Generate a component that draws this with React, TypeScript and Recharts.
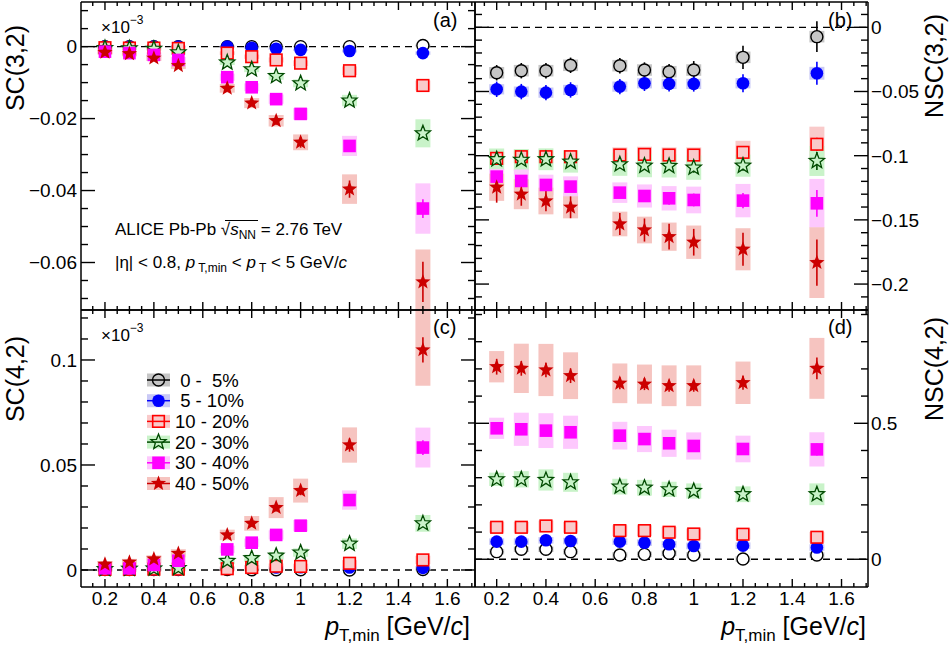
import React from 'react';
import { ScatterChart, Scatter, XAxis, YAxis, ErrorBar, ReferenceLine, Legend } from 'recharts';

const FONT = '"Liberation Sans", Arial, Helvetica, sans-serif';
const W = 950;
const H = 655;

const PT_MIN = [0.2, 0.3, 0.4, 0.5, 0.7, 0.8, 0.9, 1.0, 1.2, 1.5];
const CENTRALITY = [' 0 -  5%', ' 5 - 10%', '10 - 20%', '20 - 30%', '30 - 40%', '40 - 50%'];
const MARK_COLOR = ['#000000', '#0000ff', '#ff0000', '#004a00', '#ff00ff', '#cc0000'];
const SYS_COLOR = ['#c6c6c6', '#c9c9f6', '#f9caca', '#c9f3c9', '#fdc8fd', '#f6c4c0'];

const X_MAJOR = [0.2, 0.4, 0.6, 0.8, 1.0, 1.2, 1.4, 1.6];

// SC(3,2) (x10^-3)
const sc32Val = [
  [0, 0, 0, 0, 0, 0, 0, 0, 0, 0.0003],
  [0, 0, 0, 0, 0, -0.0003, -0.0006, -0.0009, -0.0012, -0.0018],
  [-0.0003, -0.0004, -0.0004, -0.0005, -0.0018, -0.0028, -0.0037, -0.0046, -0.0067, -0.0108],
  [-0.0004, -0.0005, -0.0006, -0.0016, -0.0044, -0.0063, -0.0082, -0.0102, -0.015, -0.0241],
  [-0.0014, -0.0018, -0.0023, -0.0037, -0.0085, -0.0113, -0.0146, -0.0187, -0.0276, -0.045],
  [-0.0016, -0.002, -0.0032, -0.0053, -0.0116, -0.0157, -0.0206, -0.0266, -0.0396, -0.0654],
];
const sc32Stat = [
  [0.0002, 0.0002, 0.0002, 0.0002, 0.0002, 0.0002, 0.0002, 0.0003, 0.0004, 0.0006],
  [0.0002, 0.0002, 0.0002, 0.0002, 0.0002, 0.0002, 0.0003, 0.0003, 0.0004, 0.0006],
  [0.0002, 0.0002, 0.0002, 0.0003, 0.0003, 0.0003, 0.0004, 0.0004, 0.0006, 0.0009],
  [0.0003, 0.0003, 0.0003, 0.0003, 0.0004, 0.0004, 0.0005, 0.0006, 0.0008, 0.0013],
  [0.0003, 0.0003, 0.0004, 0.0004, 0.0005, 0.0006, 0.0007, 0.0009, 0.0013, 0.0026],
  [0.0004, 0.0004, 0.0005, 0.0006, 0.0007, 0.0009, 0.0011, 0.0015, 0.0024, 0.0056],
];
const sc32Sys = [
  [0.0002, 0.0002, 0.0002, 0.0002, 0.0002, 0.0002, 0.0002, 0.0002, 0.0003, 0.0003],
  [0.0003, 0.0003, 0.0003, 0.0003, 0.0003, 0.0003, 0.0003, 0.0003, 0.0004, 0.0005],
  [0.0004, 0.0004, 0.0004, 0.0005, 0.0005, 0.0006, 0.0007, 0.0008, 0.0012, 0.0014],
  [0.0005, 0.0005, 0.0005, 0.0006, 0.0007, 0.0008, 0.001, 0.0011, 0.0016, 0.0039],
  [0.0006, 0.0006, 0.0007, 0.0008, 0.001, 0.0011, 0.0013, 0.0016, 0.0028, 0.007],
  [0.0006, 0.0007, 0.0008, 0.0009, 0.0012, 0.0014, 0.0016, 0.0022, 0.0041, 0.009],
];

// NSC(3,2)
const nsc32Val = [
  [-0.0354, -0.0338, -0.0338, -0.0296, -0.0299, -0.0333, -0.0346, -0.0333, -0.0234, -0.0073],
  [-0.0483, -0.0501, -0.0509, -0.0488, -0.0462, -0.0436, -0.0441, -0.0441, -0.0436, -0.0358],
  [-0.1021, -0.1008, -0.1008, -0.1008, -0.0995, -0.099, -0.0995, -0.0995, -0.0974, -0.0911],
  [-0.1028, -0.1033, -0.1028, -0.1047, -0.1067, -0.1078, -0.108, -0.1093, -0.1078, -0.1041],
  [-0.1163, -0.1197, -0.1228, -0.1241, -0.1288, -0.1314, -0.1332, -0.1345, -0.135, -0.1371],
  [-0.1246, -0.13, -0.1353, -0.1402, -0.1532, -0.1579, -0.1631, -0.1674, -0.1729, -0.1833],
];
const nsc32Stat = [
  [0.006, 0.006, 0.006, 0.006, 0.006, 0.006, 0.006, 0.007, 0.009, 0.012],
  [0.006, 0.006, 0.006, 0.006, 0.006, 0.006, 0.006, 0.006, 0.007, 0.009],
  [0.002, 0.002, 0.002, 0.002, 0.002, 0.002, 0.002, 0.002, 0.003, 0.005],
  [0.003, 0.003, 0.003, 0.003, 0.003, 0.003, 0.003, 0.004, 0.004, 0.007],
  [0.004, 0.004, 0.004, 0.004, 0.004, 0.004, 0.005, 0.005, 0.006, 0.0104],
  [0.012, 0.009, 0.008, 0.0085, 0.0085, 0.009, 0.01, 0.0104, 0.0128, 0.018],
];
const nsc32Sys = [
  [0.0045, 0.0045, 0.0045, 0.0045, 0.0045, 0.0045, 0.0045, 0.0045, 0.0045, 0.0045],
  [0.004, 0.004, 0.004, 0.004, 0.004, 0.004, 0.004, 0.004, 0.004, 0.005],
  [0.005, 0.005, 0.005, 0.005, 0.006, 0.006, 0.006, 0.006, 0.009, 0.0137],
  [0.0084, 0.0085, 0.0085, 0.0085, 0.009, 0.009, 0.009, 0.0095, 0.0086, 0.0117],
  [0.006, 0.009, 0.008, 0.008, 0.008, 0.009, 0.0095, 0.0104, 0.013, 0.019],
  [0.0106, 0.0117, 0.0104, 0.0086, 0.0096, 0.0104, 0.011, 0.013, 0.0164, 0.0275],
];

// SC(4,2) (x10^-3)
const sc42Val = [
  [0.0002, 0.0002, 0.0002, 0.0002, 0.0002, 0.0001, 0.0001, 0.0001, 0, 0.0002],
  [0.0002, 0.0002, 0.0002, 0.0003, 0.0006, 0.0012, 0.0012, 0.0013, 0.0012, 0.001],
  [0.0003, 0.0003, 0.0004, 0.0004, 0.0006, 0.0012, 0.0018, 0.0017, 0.0032, 0.0048],
  [0.0004, 0.0006, 0.0007, 0.0009, 0.0043, 0.0056, 0.0068, 0.0083, 0.0125, 0.0222],
  [0.0008, 0.0008, 0.0024, 0.0044, 0.0098, 0.013, 0.0167, 0.0211, 0.0333, 0.0583],
  [0.0027, 0.0037, 0.0052, 0.0079, 0.0167, 0.0222, 0.0297, 0.0378, 0.0595, 0.1048],
];
const sc42Stat = [
  [0.0002, 0.0002, 0.0002, 0.0002, 0.0002, 0.0002, 0.0002, 0.0002, 0.0003, 0.0004],
  [0.0002, 0.0002, 0.0002, 0.0002, 0.0002, 0.0003, 0.0003, 0.0003, 0.0004, 0.0005],
  [0.0003, 0.0003, 0.0003, 0.0003, 0.0003, 0.0004, 0.0004, 0.0005, 0.0006, 0.0008],
  [0.0003, 0.0003, 0.0003, 0.0004, 0.0005, 0.0006, 0.0007, 0.0008, 0.0012, 0.0018],
  [0.0005, 0.0005, 0.0006, 0.0007, 0.0009, 0.001, 0.0012, 0.0014, 0.002, 0.0035],
  [0.0006, 0.0007, 0.0008, 0.001, 0.0012, 0.0015, 0.0018, 0.0022, 0.0032, 0.006],
];
const sc42Sys = [
  [0.0005, 0.0005, 0.0005, 0.0005, 0.0005, 0.0005, 0.0005, 0.0005, 0.0005, 0.0005],
  [0.0008, 0.0008, 0.0008, 0.0008, 0.0008, 0.0008, 0.0008, 0.0008, 0.0008, 0.0008],
  [0.001, 0.001, 0.001, 0.001, 0.0012, 0.0012, 0.0013, 0.0013, 0.0015, 0.002],
  [0.001, 0.001, 0.001, 0.0012, 0.0015, 0.0017, 0.0018, 0.002, 0.0025, 0.004],
  [0.0012, 0.0012, 0.0013, 0.0015, 0.0018, 0.002, 0.0022, 0.0027, 0.0046, 0.0095],
  [0.0015, 0.0016, 0.0018, 0.002, 0.0025, 0.0035, 0.005, 0.0057, 0.0084, 0.0171],
];

// NSC(4,2)
const nsc42Val = [
  [0.028, 0.0366, 0.0366, 0.028, 0.0158, 0.018, 0.022, 0.0158, 0.001, 0.0158],
  [0.0648, 0.0648, 0.0697, 0.067, 0.0648, 0.061, 0.055, 0.049, 0.05, 0.043],
  [0.1176, 0.1176, 0.1225, 0.1176, 0.1053, 0.1053, 0.0993, 0.093, 0.092, 0.0809],
  [0.294, 0.294, 0.2916, 0.283, 0.267, 0.263, 0.257, 0.251, 0.239, 0.239],
  [0.4816, 0.478, 0.473, 0.467, 0.4545, 0.442, 0.4265, 0.4166, 0.4055, 0.404],
  [0.708, 0.702, 0.696, 0.675, 0.647, 0.644, 0.638, 0.638, 0.649, 0.702],
];
const nsc42Stat = [
  [0.008, 0.008, 0.008, 0.008, 0.008, 0.008, 0.008, 0.008, 0.009, 0.01],
  [0.008, 0.008, 0.008, 0.008, 0.008, 0.008, 0.008, 0.008, 0.009, 0.01],
  [0.008, 0.008, 0.008, 0.008, 0.008, 0.008, 0.008, 0.008, 0.009, 0.01],
  [0.012, 0.012, 0.012, 0.012, 0.012, 0.012, 0.012, 0.012, 0.013, 0.015],
  [0.016, 0.016, 0.016, 0.016, 0.016, 0.016, 0.017, 0.017, 0.018, 0.022],
  [0.029, 0.027, 0.027, 0.027, 0.022, 0.022, 0.022, 0.022, 0.026, 0.04],
];
const nsc42Sys = [
  [0.01, 0.01, 0.01, 0.01, 0.01, 0.01, 0.01, 0.01, 0.01, 0.01],
  [0.012, 0.012, 0.012, 0.012, 0.012, 0.012, 0.012, 0.012, 0.012, 0.012],
  [0.02, 0.02, 0.02, 0.02, 0.02, 0.02, 0.02, 0.02, 0.02, 0.02],
  [0.0245, 0.03, 0.039, 0.035, 0.029, 0.029, 0.028, 0.028, 0.029, 0.04],
  [0.039, 0.061, 0.064, 0.061, 0.051, 0.048, 0.05, 0.05, 0.049, 0.063],
  [0.0576, 0.0907, 0.096, 0.086, 0.073, 0.072, 0.075, 0.075, 0.078, 0.112],
];

function range(from: number, to: number, step: number) {
  const out: number[] = [];
  const n = Math.round((to - from) / step);
  for (let k = 0; k <= n; k++) out.push(Math.round((from + k * step) * 1e6) / 1e6);
  return out;
}

const X_TICKS = range(0.15, 1.7, 0.05);

function fmt(v: number) {
  if (Math.abs(v) < 1e-9) return '0';
  return String(+v.toFixed(3)).replace('-', '\u2212');
}

type Side = 'left' | 'right' | 'top' | 'bottom';

function makeTick(side: Side, majors: number[], labelled: boolean) {
  const horiz = side === 'top' || side === 'bottom';
  const majLen = horiz ? 8 : 14;
  const minLen = horiz ? 4 : 7;
  return function TickMark(props: any) {
    const { x, y, payload } = props;
    const v = payload.value as number;
    const major = majors.some((m) => Math.abs(m - v) < 1e-9);
    const len = major ? majLen : minLen;
    let line;
    let label = null;
    if (side === 'left') {
      line = <line x1={x} y1={y} x2={x + len} y2={y} />;
      if (labelled && major)
        label = <text x={x - 4} y={y} dy="0.36em" textAnchor="end">{fmt(v)}</text>;
    } else if (side === 'right') {
      line = <line x1={x} y1={y} x2={x - len} y2={y} />;
      if (labelled && major)
        label = <text x={x + 3} y={y} dy="0.36em" textAnchor="start">{fmt(v)}</text>;
    } else if (side === 'bottom') {
      line = <line x1={x} y1={y} x2={x} y2={y - len} />;
      if (labelled && major)
        label = <text x={x} y={y + 18} textAnchor="middle">{fmt(v)}</text>;
    } else {
      line = <line x1={x} y1={y} x2={x} y2={y + len} />;
    }
    return (
      <g>
        <g stroke="#000" strokeWidth={1.4}>{line}</g>
        {label && (
          <g fill="#000" fontFamily={FONT} fontSize={19}>{label}</g>
        )}
      </g>
    );
  };
}

function starPath(cx: number, cy: number, ro: number, ri: number) {
  let d = '';
  for (let k = 0; k < 10; k++) {
    const r = k % 2 === 0 ? ro : ri;
    const a = -Math.PI / 2 + (k * Math.PI) / 5;
    d += (k === 0 ? 'M' : 'L') + (cx + r * Math.cos(a)).toFixed(2) + ',' + (cy + r * Math.sin(a)).toFixed(2);
  }
  return d + 'Z';
}

// open markers are filled with what shows behind them in the original (box colour or white)
function marker(i: number, cx: number, cy: number, circleFill = 'none', open = false) {
  const c = MARK_COLOR[i];
  const inner = open ? 'none' : SYS_COLOR[i];
  switch (i) {
    case 0:
      return <circle cx={cx} cy={cy} r={6} fill={open ? 'none' : circleFill} stroke={c} strokeWidth={1.4} />;
    case 1:
      return <circle cx={cx} cy={cy} r={6.3} fill={c} />;
    case 2:
      return <rect x={cx - 5.8} y={cy - 5.8} width={11.6} height={11.6} fill={inner} stroke={c} strokeWidth={1.6} />;
    case 3:
      return <path d={starPath(cx, cy, 8, 3.4)} fill={inner} stroke={c} strokeWidth={1.3} />;
    case 4:
      return <rect x={cx - 6.3} y={cy - 6.3} width={12.6} height={12.6} fill={c} />;
    default:
      return <path d={starPath(cx, cy, 8, 3.4)} fill={c} />;
  }
}

function LegendBox() {
  return (
    <svg width={130} height={130} style={{ display: 'block' }}>
      {CENTRALITY.map((name, i) => {
        const cy = 12 + i * 20.7;
        return (
          <g key={name}>
            <rect x={7} y={cy - 6.5} width={23} height={13} fill={SYS_COLOR[i]} />
            <line x1={7} y1={cy} x2={30} y2={cy} stroke={MARK_COLOR[i]} strokeWidth={1.5} />
            {marker(i, 18.5, cy, 'none', true)}
            <text x={35} y={cy + 6.5} fontFamily={FONT} fontSize={18.5} fill="#000" style={{ whiteSpace: 'pre' }}>
              {name}
            </text>
          </g>
        );
      })}
    </svg>
  );
}

type PanelProps = {
  x0: number;
  x1: number;
  y0: number;
  y1: number;
  xDomain: [number, number];
  yDomain: [number, number];
  yMajor: number[];
  yTicks: number[];
  labelSide: 'left' | 'right';
  showX: boolean;
  val: number[][];
  stat: number[][];
  sys: number[][];
  circleFill: string;
  legend?: boolean;
};

function Panel(p: PanelProps) {
  const rows = p.val.map((series, i) =>
    series.map((y, j) => ({ x: PT_MIN[j], y, stat: p.stat[i][j], sys: p.sys[i][j] }))
  );
  const axisLine = { stroke: '#000', strokeWidth: 1.5 };
  return (
    <div style={{ position: 'absolute', left: 0, top: 0 }}>
      <ScatterChart
        width={W}
        height={H}
        margin={{ left: p.x0 - 1, right: W - p.x1 - 1, top: p.y0 - 1, bottom: H - p.y1 - 1 }}
      >
        <XAxis
          xAxisId="b"
          orientation="bottom"
          type="number"
          dataKey="x"
          domain={p.xDomain}
          allowDataOverflow
          ticks={X_TICKS}
          interval={0}
          height={1}
          tickSize={0}
          tickMargin={0}
          tickLine={false}
          axisLine={axisLine}
          tick={makeTick('bottom', X_MAJOR, p.showX)}
        />
        <XAxis
          xAxisId="t"
          orientation="top"
          type="number"
          dataKey="x"
          domain={p.xDomain}
          allowDataOverflow
          ticks={X_TICKS}
          interval={0}
          height={1}
          tickSize={0}
          tickMargin={0}
          tickLine={false}
          axisLine={axisLine}
          tick={makeTick('top', X_MAJOR, false)}
        />
        <YAxis
          yAxisId="l"
          orientation="left"
          type="number"
          dataKey="y"
          domain={p.yDomain}
          allowDataOverflow
          ticks={p.yTicks}
          interval={0}
          width={1}
          tickSize={0}
          tickMargin={0}
          tickLine={false}
          axisLine={axisLine}
          tick={makeTick('left', p.yMajor, p.labelSide === 'left')}
        />
        <YAxis
          yAxisId="r"
          orientation="right"
          type="number"
          dataKey="y"
          domain={p.yDomain}
          allowDataOverflow
          ticks={p.yTicks}
          interval={0}
          width={1}
          tickSize={0}
          tickMargin={0}
          tickLine={false}
          axisLine={axisLine}
          tick={makeTick('right', p.yMajor, p.labelSide === 'right')}
        />
        <ReferenceLine xAxisId="b" yAxisId="l" y={0} stroke="#000" strokeWidth={1.3} strokeDasharray="7 5" />
        {rows.map((data, i) => (
          <Scatter
            key={'sys' + i}
            xAxisId="b"
            yAxisId="l"
            data={data}
            legendType="none"
            shape={() => <g />}
            isAnimationActive={false}
          >
            <ErrorBar dataKey="sys" direction="y" width={0} stroke={SYS_COLOR[i]} strokeWidth={15} isAnimationActive={false} />
          </Scatter>
        ))}
        {rows.map((data, i) => (
          <Scatter
            key={'pts' + i}
            xAxisId="b"
            yAxisId="l"
            data={data}
            name={CENTRALITY[i]}
            shape={(s: any) => marker(i, s.cx, s.cy, p.circleFill)}
            isAnimationActive={false}
          >
            <ErrorBar dataKey="stat" direction="y" width={0} stroke={MARK_COLOR[i]} strokeWidth={1.6} isAnimationActive={false} />
          </Scatter>
        ))}
        {p.legend && (
          <Legend
            layout="horizontal"
            verticalAlign="middle"
            align="center"
            content={() => <LegendBox />}
            wrapperStyle={{ position: 'absolute', left: 140, top: 368, width: 130, height: 130 }}
          />
        )}
      </ScatterChart>
    </div>
  );
}

function Texts() {
  const t = { fontFamily: FONT, fill: '#000' };
  return (
    <svg width={W} height={H} style={{ position: 'absolute', left: 0, top: 0, pointerEvents: 'none' }}>
      <g {...t}>
        <text x={101} y={33} fontSize={17}>
          ×10<tspan fontSize={12} dy={-9}>−3</tspan>
        </text>
        <text x={101} y={341} fontSize={17}>
          ×10<tspan fontSize={12} dy={-9}>−3</tspan>
        </text>
        <text x={433} y={27} fontSize={20}>(a)</text>
        <text x={828} y={27} fontSize={20}>(b)</text>
        <text x={433} y={334} fontSize={20}>(c)</text>
        <text x={828} y={334} fontSize={20}>(d)</text>

        <text x={115} y={235} fontSize={17}>
          ALICE Pb-Pb <tspan>√</tspan>
          <tspan fontStyle="italic">s</tspan>
          <tspan fontSize={12} dy={4}>NN</tspan>
          <tspan dy={-4}> = 2.76 TeV</tspan>
        </text>
        <line x1={225} y1={220.5} x2={258} y2={220.5} stroke="#000" strokeWidth={1.2} />
        <text x={115} y={268} fontSize={17}>
          |η| &lt; 0.8, <tspan fontStyle="italic">p</tspan>
          <tspan fontSize={12} dy={4}> T,min</tspan>
          <tspan dy={-4}> &lt; </tspan>
          <tspan fontStyle="italic">p</tspan>
          <tspan fontSize={12} dy={4}> T</tspan>
          <tspan dy={-4}> &lt; 5 GeV/</tspan>
          <tspan fontStyle="italic">c</tspan>
        </text>

        <text x={470} y={635} textAnchor="end" fontSize={25}>
          <tspan fontStyle="italic">p</tspan>
          <tspan fontSize={17} dy={6}>T,min</tspan>
          <tspan dy={-6}> [GeV/</tspan>
          <tspan fontStyle="italic">c</tspan>]
        </text>
        <text x={866} y={635} textAnchor="end" fontSize={25}>
          <tspan fontStyle="italic">p</tspan>
          <tspan fontSize={17} dy={6}>T,min</tspan>
          <tspan dy={-6}> [GeV/</tspan>
          <tspan fontStyle="italic">c</tspan>]
        </text>

        <text x={15} y={68} transform="rotate(-90 15 68)" textAnchor="middle" dominantBaseline="central" fontSize={25}>
          SC(3,2)
        </text>
        <text x={15} y={379} transform="rotate(-90 15 379)" textAnchor="middle" dominantBaseline="central" fontSize={25}>
          SC(4,2)
        </text>
        <text x={934} y={66} transform="rotate(-90 934 66)" textAnchor="middle" dominantBaseline="central" fontSize={25}>
          NSC(3,2)
        </text>
        <text x={934} y={369} transform="rotate(-90 934 369)" textAnchor="middle" dominantBaseline="central" fontSize={25}>
          NSC(4,2)
        </text>
      </g>
    </svg>
  );
}

export default function App() {
  return (
    <div style={{ position: 'absolute', left: 0, top: 0, width: W, height: H, background: '#fff', overflow: 'hidden' }}>
      <Panel
        x0={81}
        x1={475}
        y0={2}
        y1={310}
        xDomain={[0.102, 1.713]}
        yDomain={[-0.0732, 0.0124]}
        yMajor={[0, -0.02, -0.04, -0.06]}
        yTicks={range(-0.07, 0.01, 0.005)}
        labelSide="left"
        showX={false}
        val={sc32Val}
        stat={sc32Stat}
        sys={sc32Sys}
        circleFill="#ffffff"
      />
      <Panel
        x0={475}
        x1={868}
        y0={2}
        y1={310}
        xDomain={[0.112, 1.7075]}
        yDomain={[-0.2202, 0.0197]}
        yMajor={[0, -0.05, -0.1, -0.15, -0.2]}
        yTicks={range(-0.22, 0.01, 0.01)}
        labelSide="right"
        showX={false}
        val={nsc32Val}
        stat={nsc32Stat}
        sys={nsc32Sys}
        circleFill={SYS_COLOR[0]}
      />
      <Panel
        x0={81}
        x1={475}
        y0={310}
        y1={587}
        xDomain={[0.102, 1.713]}
        yDomain={[-0.0081, 0.1238]}
        yMajor={[0, 0.05, 0.1]}
        yTicks={range(0, 0.12, 0.01)}
        labelSide="left"
        showX
        val={sc42Val}
        stat={sc42Stat}
        sys={sc42Sys}
        circleFill="#ffffff"
        legend
      />
      <Panel
        x0={475}
        x1={868}
        y0={310}
        y1={587}
        xDomain={[0.112, 1.7075]}
        yDomain={[-0.102, 0.9166]}
        yMajor={[0, 0.5]}
        yTicks={range(0, 0.9, 0.1)}
        labelSide="right"
        showX
        val={nsc42Val}
        stat={nsc42Stat}
        sys={nsc42Sys}
        circleFill="#ffffff"
      />
      <Texts />
    </div>
  );
}
